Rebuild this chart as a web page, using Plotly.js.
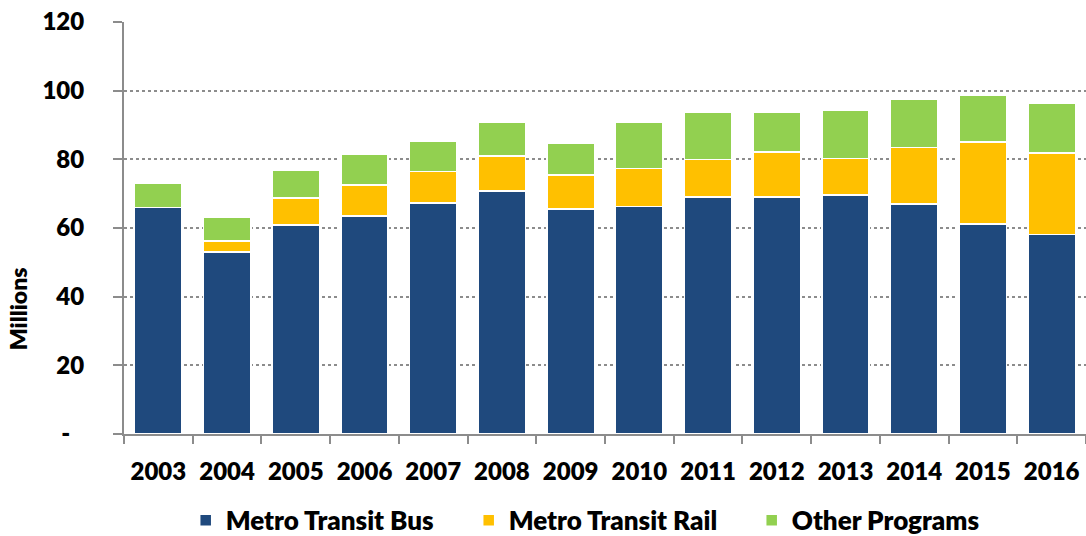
<!DOCTYPE html>
<html>
<head>
<meta charset="utf-8">
<script src="https://cdn.plot.ly/plotly-3.0.1.min.js"></script>
<style>html,body{margin:0;padding:0;background:#fff;}#chart{width:1086px;height:536px;}</style>
</head>
<body>
<div id="chart"></div>
<script>
const years = ['2003','2004','2005','2006','2007','2008','2009','2010','2011','2012','2013','2014','2015','2016'];
const busValues   = [66.0, 53.0, 60.9, 63.5, 67.3, 70.8, 65.5, 66.2, 69.0, 69.0, 69.6, 67.0, 61.2, 58.1];
const railValues  = [0.0, 3.2, 7.9, 9.0, 9.2, 10.2, 10.0, 11.2, 11.0, 13.1, 10.7, 16.5, 23.8, 23.7];
const otherValues = [7.0, 7.0, 7.9, 8.9, 8.9, 9.8, 9.2, 13.4, 13.6, 11.7, 13.9, 14.0, 13.7, 14.4];
const yTickVals  = [0, 20, 40, 60, 80, 100, 120];
const yTickText  = ['-\u2007', '20', '40', '60', '80', '100', '120'];

const font = 'Lato, "Open Sans", sans-serif';
const W = 800;
const line = {color: '#ffffff', width: 1.5};
const traces = [
  {type: 'bar', name: 'Metro Transit Bus', x: years, y: busValues, marker: {color: '#1F497D', line: line}},
  {type: 'bar', name: 'Metro Transit Rail', x: years, y: railValues, marker: {color: '#FFC000', line: line}},
  {type: 'bar', name: 'Other Programs', x: years, y: otherValues, marker: {color: '#92D050', line: line}}
];
const layout = {
  width: 1086, height: 536,
  margin: {l: 124, r: 0, t: 22, b: 102},
  barmode: 'stack',
  bargap: 0.31,
  paper_bgcolor: '#ffffff', plot_bgcolor: '#ffffff',
  font: {family: font, size: 24, color: '#000000', weight: W},
  showlegend: true,
  legend: {orientation: 'h', xref: 'container', yref: 'container', x: 0.171, xanchor: 'left', y: 0.029, yanchor: 'middle',
           font: {family: font, size: 26, color: '#000', weight: W}, traceorder: 'normal', itemwidth: 30,
           entrywidth: 238, entrywidthmode: 'pixels'},
  xaxis: {type: 'category', tickson: 'boundaries', ticks: 'outside', ticklen: 8, tickcolor: '#8c8c8c', tickwidth: 2,
          showline: true, linecolor: '#8c8c8c', linewidth: 2, showgrid: false, ticklabelstandoff: 15,
          tickfont: {family: font, size: 24, color: '#000', weight: W}},
  yaxis: {range: [0, 120], tickvals: yTickVals, ticktext: yTickText, ticks: 'outside', ticklen: 9, tickcolor: '#8c8c8c', tickwidth: 2,
          showline: true, linecolor: '#8c8c8c', linewidth: 2, showgrid: true, gridcolor: '#8c8c8c', gridwidth: 2, griddash: 'dot',
          zeroline: false, ticklabelstandoff: 24,
          tickfont: {family: font, size: 24, color: '#000', weight: W}},
  annotations: [{text: 'Millions', xref: 'paper', yref: 'paper', x: -0.110, y: 0.303, xanchor: 'center', yanchor: 'middle',
                 textangle: -90, showarrow: false, font: {family: font, size: 23, color: '#000', weight: W}}]
};
Plotly.newPlot('chart', traces, layout, {displayModeBar: false, staticPlot: true});
</script>
</body>
</html>
